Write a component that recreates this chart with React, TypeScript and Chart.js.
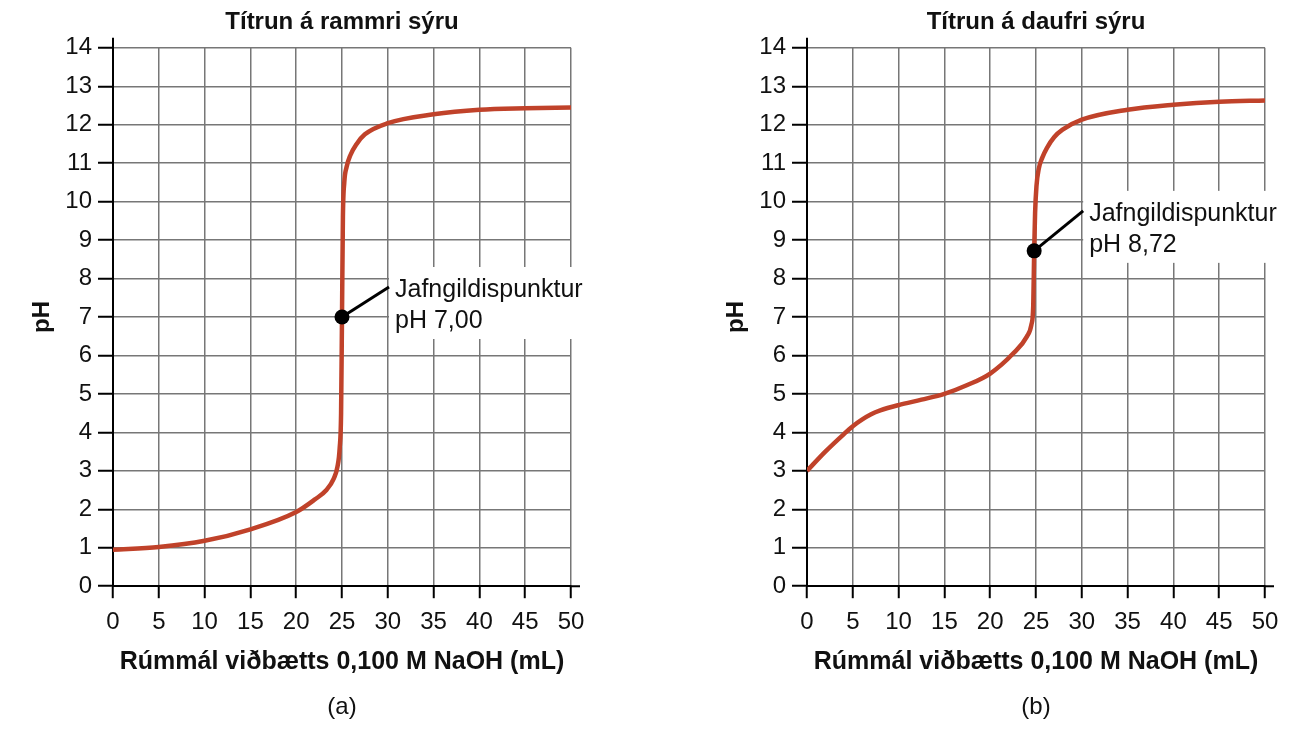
import React, { useRef, useEffect } from 'react';
import { Chart, registerables } from 'chart.js';

Chart.register(...registerables);

// Strong acid (HCl) titration curve, pH vs mL NaOH
const strongVolumes = [0, 5, 10, 15, 20, 22, 23.3, 24.1, 24.5, 24.75, 24.9, 25, 25.1, 25.25, 25.5, 25.9, 26.6, 27.5, 30, 35, 40, 45, 50];
const strongPH = [0.95, 1.02, 1.18, 1.48, 1.93, 2.25, 2.5, 2.8, 3.1, 3.6, 4.5, 7.0, 9.6, 10.5, 10.9, 11.2, 11.5, 11.75, 12.04, 12.27, 12.39, 12.43, 12.45];

// Weak acid titration curve
const weakVolumes = [0, 2, 4, 5, 6, 7, 8, 10, 12.5, 15, 17.5, 20, 22.5, 24, 24.5, 24.7, 24.8, 24.9, 25.05, 25.3, 25.7, 26.2, 27, 27.9, 30, 35, 40, 45, 50];
const weakPH = [3.0, 3.5, 3.95, 4.16, 4.33, 4.47, 4.57, 4.71, 4.85, 5.0, 5.23, 5.53, 6.05, 6.49, 6.8, 7.3, 8.72, 9.7, 10.4, 10.85, 11.15, 11.4, 11.68, 11.87, 12.13, 12.39, 12.52, 12.6, 12.63];

// Equivalence points [mL, pH]
const strongEquivalence = [25, 7.0];
const weakEquivalence = [24.8, 8.72];

const xTitle = 'Rúmmál viðbætts 0,100 M NaOH (mL)';
const FONT = "'Liberation Sans', Arial, Helvetica, sans-serif";
const CURVE_COLOR = '#c0422a';

interface TitrationProps {
  title: string;
  caption: string;
  volumes: number[];
  ph: number[];
  equivalence: number[];
  labelLines: string[];
  leader: { dx: number; dy: number };
  left: number;
}

const TitrationChart: React.FC<TitrationProps> = ({ title, caption, volumes, ph, equivalence, labelLines, leader, left }) => {
  const canvasRef = useRef<HTMLCanvasElement>(null);

  useEffect(() => {
    if (!canvasRef.current) return;
    const ctx = canvasRef.current.getContext('2d');
    if (!ctx) return;

    // axis extensions + equivalence point annotation
    const annotate = {
      id: 'annotate',
      afterDraw(chart: any) {
        const c = chart.ctx;
        const { left: l, right: r, top: t, bottom: b } = chart.chartArea;
        c.save();
        c.strokeStyle = '#000';
        c.lineWidth = 2;
        c.beginPath();
        c.moveTo(l, t);
        c.lineTo(l, t - 10);
        c.moveTo(r, b);
        c.lineTo(r + 9, b);
        c.stroke();

        const px = chart.scales.x.getPixelForValue(equivalence[0]);
        const py = chart.scales.y.getPixelForValue(equivalence[1]);
        const ax = px + leader.dx;
        const ay = py + leader.dy;

        c.fillStyle = '#fff';
        c.fillRect(ax, ay - 20, 210, 72);

        c.strokeStyle = '#000';
        c.lineWidth = 3;
        c.beginPath();
        c.moveTo(px, py);
        c.lineTo(ax, ay);
        c.stroke();

        c.fillStyle = '#000';
        c.beginPath();
        c.arc(px, py, 7.5, 0, Math.PI * 2);
        c.fill();

        c.fillStyle = '#111';
        c.font = `25px ${FONT}`;
        c.textAlign = 'left';
        c.textBaseline = 'middle';
        c.fillText(labelLines[0], ax + 6, ay + 3);
        c.fillText(labelLines[1], ax + 6, ay + 34);
        c.restore();
      }
    };

    const chart = new Chart(ctx, {
      type: 'line',
      data: {
        labels: volumes,
        datasets: [{
          data: volumes.map((v, i) => ({ x: v, y: ph[i] })),
          borderColor: CURVE_COLOR,
          borderWidth: 4.5,
          pointRadius: 0,
          cubicInterpolationMode: 'monotone',
          fill: false
        }]
      },
      options: {
        responsive: false,
        animation: false,
        devicePixelRatio: 1,
        layout: { padding: { left: 0, right: 35, top: 0, bottom: 0 } },
        plugins: {
          legend: { display: false },
          tooltip: { enabled: false },
          title: {
            display: true,
            text: title,
            fullSize: false,
            color: '#111',
            font: { family: FONT, size: 24, weight: 'bold' },
            padding: { top: 8, bottom: 11 }
          },
          subtitle: {
            display: true,
            text: caption,
            position: 'bottom',
            fullSize: false,
            color: '#111',
            font: { family: FONT, size: 24 },
            padding: { top: 7, bottom: 9 }
          }
        },
        scales: {
          x: {
            type: 'linear',
            min: 0,
            max: 50,
            ticks: { stepSize: 5, color: '#111', font: { family: FONT, size: 24 }, padding: 10, maxRotation: 0 },
            grid: { color: '#777', lineWidth: 1.5, tickLength: 12, tickColor: '#000', tickWidth: 2 },
            border: { color: '#000', width: 2 },
            title: {
              display: true,
              text: xTitle,
              color: '#111',
              font: { family: FONT, size: 25, weight: 'bold' },
              padding: { top: 0, bottom: 9 }
            },
            afterFit: (s: any) => { s.height = 100; }
          },
          y: {
            min: 0,
            max: 14,
            ticks: { stepSize: 1, color: '#111', font: { family: FONT, size: 24 }, padding: 6 },
            grid: { color: '#777', lineWidth: 1.5, tickLength: 15, tickColor: '#000', tickWidth: 2 },
            border: { color: '#000', width: 2 },
            title: {
              display: true,
              text: 'pH',
              color: '#111',
              font: { family: FONT, size: 24, weight: 'bold' },
              padding: { top: 28, bottom: 0 }
            },
            afterFit: (s: any) => { s.width = 113; }
          }
        }
      },
      plugins: [annotate]
    } as any);

    return () => chart.destroy();
  }, [title, caption, volumes, ph, equivalence, labelLines, leader]);

  return (
    <div style={{ position: 'absolute', left, top: 0, width: 606, height: 731 }}>
      <canvas ref={canvasRef} width={606} height={731} style={{ width: 606, height: 731, display: 'block' }} />
    </div>
  );
};

export default function App() {
  return (
    <div style={{ position: 'absolute', left: 0, top: 0, width: 1300, height: 731, background: '#fff', overflow: 'hidden' }}>
      <TitrationChart
        title="Títrun á rammri sýru"
        caption="(a)"
        volumes={strongVolumes}
        ph={strongPH}
        equivalence={strongEquivalence}
        labelLines={['Jafngildispunktur', 'pH 7,00']}
        leader={{ dx: 47, dy: -30 }}
        left={0}
      />
      <TitrationChart
        title="Títrun á daufri sýru"
        caption="(b)"
        volumes={weakVolumes}
        ph={weakPH}
        equivalence={weakEquivalence}
        labelLines={['Jafngildispunktur', 'pH 8,72']}
        leader={{ dx: 49, dy: -40 }}
        left={694}
      />
    </div>
  );
}
